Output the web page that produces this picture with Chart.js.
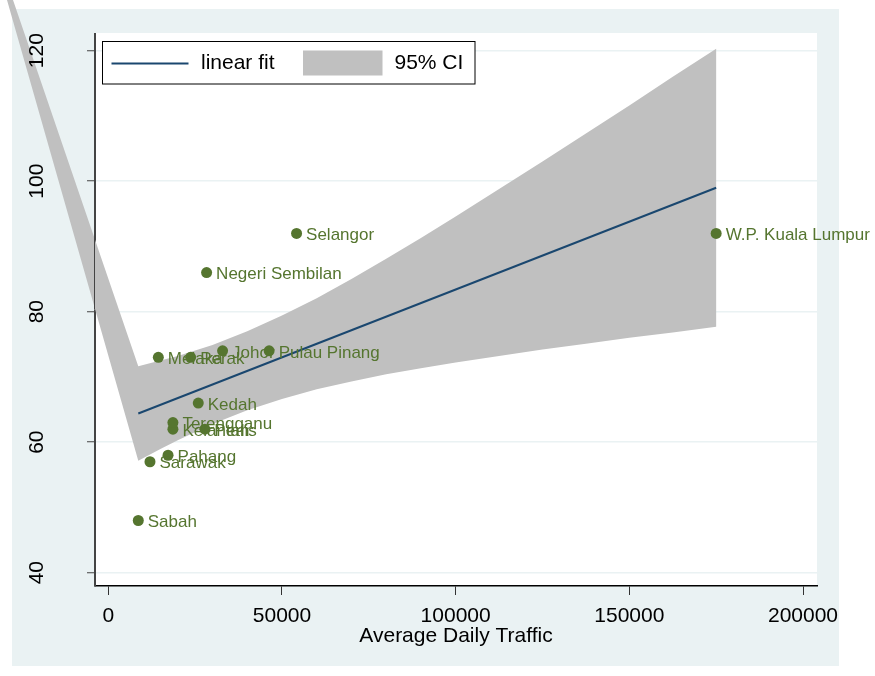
<!DOCTYPE html>
<html>
<head>
<meta charset="utf-8">
<script src="https://cdn.jsdelivr.net/npm/chart.js@4.4.1/dist/chart.umd.min.js"></script>
<style>
  html, body { margin: 0; padding: 0; background: #fff; }
  #wrap { width: 875px; height: 676px; }
</style>
</head>
<body>
<div id="wrap"><canvas id="chart" width="875" height="676"></canvas></div>
<script>
const STATES = [
  "Johor", "Kedah", "Kelantan", "Melaka", "Negeri Sembilan", "Pahang", "Perak",
  "Perlis", "Pulau Pinang", "Sabah", "Sarawak", "Selangor", "Terengganu", "W.P. Kuala Lumpur",
]
const TRAFFIC = [32900, 25900, 18600, 14400, 28300, 17200, 23700, 27800, 46300, 8630, 12000, 54200, 18600, 175000]
const SCORE = [74, 66, 62, 73, 86, 58, 73, 62, 74, 48, 57, 92, 63, 92]

// linear fit, read at its two ends
const FIT_X = [8630, 175000]
const FIT_Y = [64.4, 99.0]

// 95% CI band
const CI_X = [8630, 15000, 20000, 30000, 40000, 50000, 60000, 70000, 80000,
  90000, 100000, 112500, 125000, 137500, 150000, 162500, 175000]
const CI_UPPER = [71.65, 72.5, 73.2, 74.9, 77.0, 79.4, 82.05, 85.0, 88.1,
  91.3, 94.6, 98.8, 103.0, 107.3, 111.6, 116.0, 120.3]
const CI_LOWER = [57.15, 58.95, 60.3, 62.8, 64.9, 66.6, 68.1, 69.3, 70.4,
  71.35, 72.2, 73.2, 74.2, 75.1, 76.0, 76.8, 77.7]
// stray vertex the original band polygon closes through (off the top-left)
const CI_STRAY = { x: -37800, y: 143.9 }

const X_TICKS = [0, 50000, 100000, 150000, 200000]
const Y_TICKS = [40, 60, 80, 100, 120]

const FONT = "'Liberation Sans', Arial, sans-serif"
const GREEN = "#55752f"
const NAVY = "#1a476f"
const BAND = "#c0c0c0"
const PANEL = "#eaf2f3"

const bandPoints = [CI_STRAY]
  .concat(CI_X.map((x, i) => ({ x, y: CI_UPPER[i] })))
  .concat(CI_X.map((x, i) => ({ x, y: CI_LOWER[i] })).reverse())

const stataLook = {
  id: "stataLook",
  beforeDraw(chart) {
    const { ctx, chartArea: a } = chart
    ctx.save()
    ctx.fillStyle = "#ffffff"
    ctx.fillRect(0, 0, chart.width, chart.height)
    ctx.fillStyle = PANEL
    ctx.fillRect(12, 9, 827, 657)
    ctx.fillStyle = "#ffffff"
    ctx.fillRect(a.left, a.top, a.right - a.left, a.bottom - a.top)
    ctx.restore()
  },
  beforeDatasetsDraw(chart) {
    // the CI polygon is not clipped to the plot region in the original
    const { ctx, scales, chartArea: a } = chart
    const pts = chart.data.datasets[1].data
    ctx.save()
    ctx.beginPath()
    pts.forEach((p, i) => {
      const px = scales.x.getPixelForValue(p.x)
      const py = scales.y.getPixelForValue(p.y)
      if (i === 0) ctx.moveTo(px, py)
      else ctx.lineTo(px, py)
    })
    ctx.closePath()
    ctx.fillStyle = BAND
    ctx.fill()
    // y axis line sits on top of the band
    ctx.strokeStyle = "#444"
    ctx.lineWidth = 1
    ctx.beginPath()
    ctx.moveTo(a.left - 0.5, a.top)
    ctx.lineTo(a.left - 0.5, a.bottom)
    ctx.stroke()
    ctx.restore()
  },
  afterDatasetsDraw(chart) {
    const { ctx, chartArea: a } = chart

    // marker labels, to the right of each dot
    const meta = chart.getDatasetMeta(2)
    ctx.save()
    ctx.font = "17px " + FONT
    ctx.fillStyle = GREEN
    ctx.textBaseline = "middle"
    ctx.textAlign = "left"
    meta.data.forEach((el, i) => {
      ctx.fillText(STATES[i], el.x + 9.5, el.y + 2)
    })

    // legend box
    const lx = a.left + 7.5
    const ly = a.top + 8.5
    ctx.fillStyle = "#ffffff"
    ctx.fillRect(lx, ly, 372.5, 42.5)
    ctx.strokeStyle = "#000"
    ctx.lineWidth = 1
    ctx.strokeRect(lx, ly, 372.5, 42.5)
    ctx.strokeStyle = NAVY
    ctx.lineWidth = 2
    ctx.beginPath()
    ctx.moveTo(lx + 9, ly + 22)
    ctx.lineTo(lx + 86, ly + 22)
    ctx.stroke()
    ctx.fillStyle = BAND
    ctx.fillRect(lx + 200.5, ly + 9, 79.5, 25)
    ctx.fillStyle = "#000"
    ctx.font = "21px " + FONT
    ctx.fillText("linear fit", lx + 98.5, ly + 22)
    ctx.fillText("95% CI", lx + 292, ly + 22)
    ctx.restore()
  },
  afterDraw(chart) {
    // vertical y tick labels
    const { ctx, scales } = chart
    ctx.save()
    ctx.font = "21px " + FONT
    ctx.fillStyle = "#000"
    ctx.textAlign = "center"
    ctx.textBaseline = "middle"
    Y_TICKS.forEach(v => {
      ctx.save()
      ctx.translate(37.5, scales.y.getPixelForValue(v))
      ctx.rotate(-Math.PI / 2)
      ctx.fillText(String(v), 0, 0)
      ctx.restore()
    })
    ctx.restore()
  },
}

new Chart(document.getElementById("chart"), {
  type: "scatter",
  data: {
    datasets: [
      {
        label: "linear fit",
        data: FIT_X.map((x, i) => ({ x, y: FIT_Y[i] })),
        showLine: true,
        borderColor: NAVY,
        borderWidth: 2,
        pointRadius: 0,
        order: 2,
      },
      {
        label: "95% CI",
        data: bandPoints,
        backgroundColor: BAND,
        showLine: false,
        pointRadius: 0,
        order: 3,
      },
      {
        label: "states",
        data: TRAFFIC.map((x, i) => ({ x, y: SCORE[i] })),
        backgroundColor: GREEN,
        borderColor: GREEN,
        pointRadius: 5.5,
        pointBorderWidth: 0,
        order: 1,
      },
    ],
  },
  options: {
    responsive: false,
    animation: false,
    layout: { padding: { left: 0, top: 33, right: 58, bottom: 0 } },
    plugins: {
      legend: { display: false },
      tooltip: { enabled: false },
    },
    scales: {
      x: {
        type: "linear",
        min: -3830,
        max: 204030,
        afterBuildTicks: s => { s.ticks = X_TICKS.map(v => ({ value: v })) },
        afterFit: s => { s.height = 90 },
        grid: { drawOnChartArea: false, tickLength: 9, tickColor: "#333", tickWidth: 1 },
        border: { color: "#000", width: 1.5 },
        ticks: {
          color: "#000",
          font: { family: FONT, size: 21 },
          padding: 9,
          maxRotation: 0,
          autoSkip: false,
          callback: v => String(v),
        },
        title: {
          display: true,
          text: "Average Daily Traffic",
          color: "#000",
          font: { family: FONT, size: 21 },
          padding: { top: 0, bottom: 27 },
        },
      },
      y: {
        type: "linear",
        min: 37.96,
        max: 122.71,
        afterBuildTicks: s => { s.ticks = Y_TICKS.map(v => ({ value: v })) },
        afterFit: s => { s.width = 95 },
        grid: { color: PANEL, lineWidth: 1.5, tickLength: 8, tickColor: "#444", tickWidth: 1 },
        border: { color: "#444", width: 1 },
        ticks: { display: false },
      },
    },
  },
  plugins: [stataLook],
})
</script>
</body>
</html>
